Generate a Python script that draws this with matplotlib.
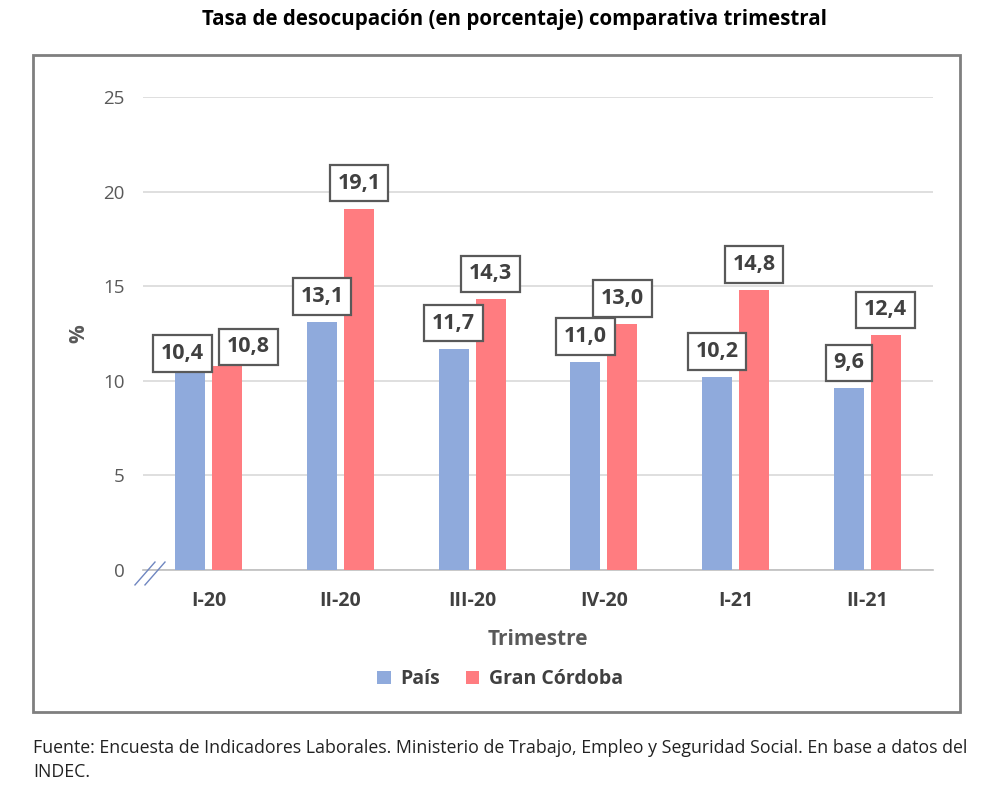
import matplotlib.pyplot as plt
import matplotlib.patches as mpatch
import numpy as np

plt.rcParams['font.family'] = ['Open Sans', 'DejaVu Sans']

trimestres = ['I-20', 'II-20', 'III-20', 'IV-20', 'I-21', 'II-21']
pais = [10.4, 13.1, 11.7, 11.0, 10.2, 9.6]
cordoba = [10.8, 19.1, 14.3, 13.0, 14.8, 12.4]
yticks = [0, 5, 10, 15, 20, 25]

# corrimiento de las etiquetas (solo el primer grupo se separa)
dx_pais = [-0.06, 0, 0, 0, 0, 0]
dx_cba = [0.16, 0, 0, 0, 0, 0]
dy_pais = [1.05, 1.35, 1.35, 1.35, 1.35, 1.35]
dy_cba = [1.0, 1.35, 1.35, 1.35, 1.35, 1.35]

azul = '#8faadc'
rojo = '#ff7c80'
gris = '#404040'

fig = plt.figure(figsize=(10, 8.07), dpi=100, facecolor='white')
ax = fig.add_axes([0.143, 0.2937, 0.79, 0.586])

x = np.arange(len(trimestres))
w = 0.228
off = 0.14
ax.bar(x - off, pais, w, color=azul, label='País', zorder=3)
ax.bar(x + off, cordoba, w, color=rojo, label='Gran Córdoba', zorder=3)

caja = dict(boxstyle='square,pad=0.36', fc='white', ec='#595959', lw=1.6)
for i in range(len(x)):
    ax.text(x[i] - off + dx_pais[i], pais[i] + dy_pais[i], f'{pais[i]:.1f}'.replace('.', ','),
            ha='center', va='center', fontsize=15.5, fontweight='bold', color=gris, bbox=caja, zorder=5)
    ax.text(x[i] + off + dx_cba[i], cordoba[i] + dy_cba[i], f'{cordoba[i]:.1f}'.replace('.', ','),
            ha='center', va='center', fontsize=15.5, fontweight='bold', color=gris, bbox=caja, zorder=5)

ax.set_xlim(-0.5, len(x) - 0.5)
ax.set_ylim(0, 25)
ax.set_yticks(yticks)
ax.yaxis.grid(True, color='#d9d9d9', lw=1.2, zorder=0)
ax.set_axisbelow(True)
for s in ['top', 'right', 'left']:
    ax.spines[s].set_visible(False)
ax.spines['bottom'].set_color('#bfbfbf')
ax.spines['bottom'].set_linewidth(1.2)
ax.tick_params(axis='both', length=0)
ax.tick_params(axis='y', labelsize=13.5, labelcolor='#595959', pad=13)
ax.tick_params(axis='x', labelsize=14, labelcolor=gris, pad=15)
ax.set_xticks(x)
ax.set_xticklabels(trimestres, fontweight='bold')
ax.set_xlabel('Trimestre', fontsize=15, fontweight='bold', color='#595959', labelpad=13)
ax.set_ylabel('%', fontsize=15, fontweight='bold', color='#595959', labelpad=10)

# marca de corte del eje
for x0 in [-0.561, -0.485]:
    ax.plot([x0, x0 + 0.152], [-0.79, 0.42], color='#6f86c0', lw=1,
            clip_on=False, zorder=6)

ax.legend(loc='upper center', bbox_to_anchor=(0.452, -0.173), ncol=2, frameon=False,
          handlelength=0.7, handleheight=0.7, columnspacing=1.3,
          handletextpad=0.5, labelcolor=gris, prop={'weight': 'bold', 'size': 14})

borde = mpatch.Rectangle((0.033, (807 - 712) / 807), 0.927, (712 - 55) / 807,
                         transform=fig.transFigure, fill=False, ec='#7f7f7f', lw=2)
fig.patches.append(borde)

fig.text(0.515, 1 - 20 / 807, 'Tasa de desocupación (en porcentaje) comparativa trimestral',
         ha='center', va='center', fontsize=14.8, fontweight='bold', color='black')
fig.text(0.033, 1 - 748 / 807,
         'Fuente: Encuesta de Indicadores Laborales. Ministerio de Trabajo, Empleo y Seguridad Social. En base a datos del',
         ha='left', va='center', fontsize=12.8, color='#222222')
fig.text(0.033, 1 - 772 / 807, 'INDEC.', ha='left', va='center', fontsize=12.8, color='#222222')

fig.savefig('out.png', dpi=100, facecolor='white')
